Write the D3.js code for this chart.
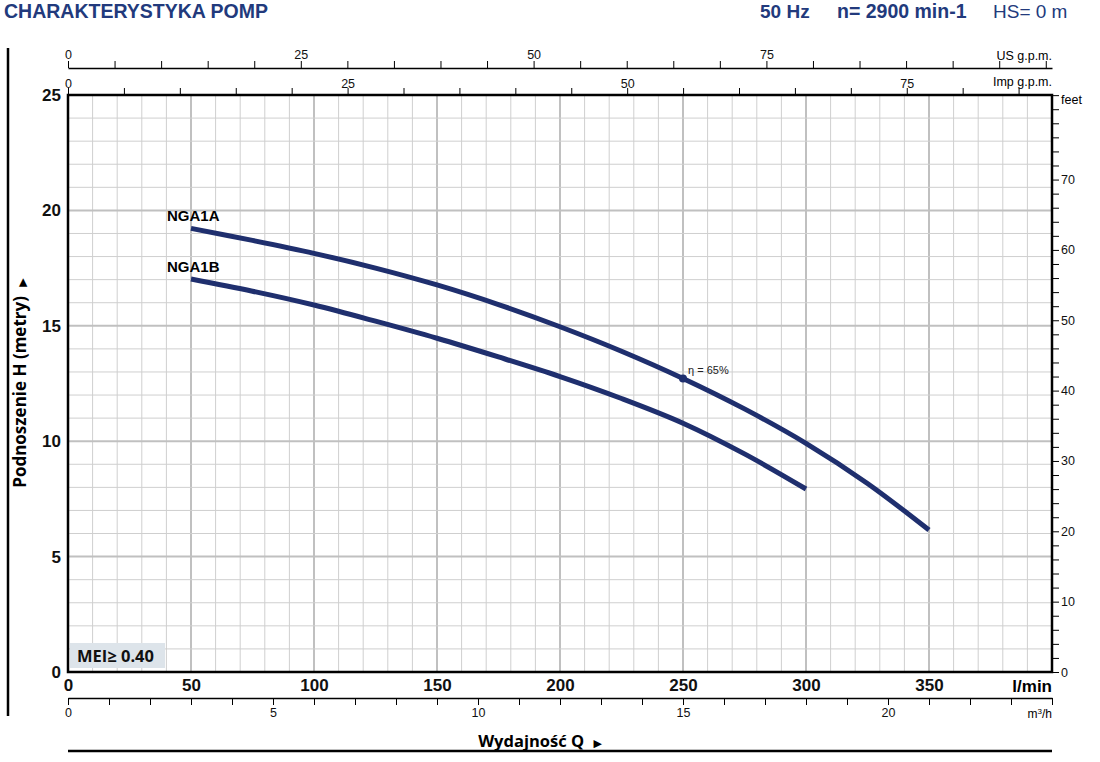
<!DOCTYPE html>
<html><head><meta charset="utf-8">
<script src="https://cdn.jsdelivr.net/npm/d3@7"></script>
<style>
body{margin:0;background:#fff;}
svg{display:block;}
.narrow{font-family:"Liberation Sans Narrow","Arial Narrow","Liberation Sans",sans-serif;}
</style></head>
<body><svg id="c" width="1100" height="762"></svg>
<script>
// ---- data ----
const qA = [50, 75, 100, 125, 150, 175, 200, 225, 250, 275, 300, 325, 350];
const hA = [19.22, 18.7, 18.14, 17.5, 16.77, 15.92, 14.96, 13.9, 12.72, 11.4, 9.91, 8.17, 6.15];
const qB = [50, 75, 100, 125, 150, 175, 200, 225, 250, 275, 300];
const hB = [17.03, 16.5, 15.9, 15.2, 14.46, 13.65, 12.8, 11.85, 10.78, 9.45, 7.93];
const seriesNames = ["NGA1A", "NGA1B"];
const etaPoint = {q: 250, h: 12.72, label: "η = 65%"};
const qTicks = [0, 50, 100, 150, 200, 250, 300, 350];
const hTicks = [0, 5, 10, 15, 20, 25];
const usTicks = [0, 25, 50, 75];
const impTicks = [0, 25, 50, 75];
const m3Ticks = [0, 5, 10, 15, 20];
const ftTicks = [0, 10, 20, 30, 40, 50, 60, 70];

const svg = d3.select("#c");
const navy = "#1f2f6e";
const hdr = "#223a7c";
const L = 68, R = 1052, T = 95, B = 672;
const x = d3.scaleLinear([0, 400], [L, R]);
const y = d3.scaleLinear([0, 25], [B, T]);
const xUS = d3.scaleLinear([0, 400 / 3.78541], [L, R]);
const xImp = d3.scaleLinear([0, 400 / 4.54609], [L, R]);
const xM3 = d3.scaleLinear([0, 24], [L, R]);
const yFt = d3.scaleLinear([0, 25 / 0.3048], [B, T]);

// header
const hf = "'Liberation Sans',Arial,sans-serif";
svg.append("text").attr("x", 4).attr("y", 17.5).attr("fill", hdr)
  .attr("font-family", hf).attr("font-weight", 700).attr("font-size", 19.5)
  .text("CHARAKTERYSTYKA POMP");
svg.append("text").attr("x", 760).attr("y", 17.5).attr("fill", hdr)
  .attr("font-family", hf).attr("font-weight", 700).attr("font-size", 19)
  .text("50 Hz");
svg.append("text").attr("x", 837).attr("y", 17.5).attr("fill", hdr)
  .attr("font-family", hf).attr("font-weight", 700).attr("font-size", 19.5)
  .text("n= 2900 min-1");
svg.append("text").attr("x", 993).attr("y", 17.5).attr("fill", hdr)
  .attr("font-family", hf).attr("font-weight", 400).attr("font-size", 19)
  .text("HS= 0 m");

// grid
const g = svg.append("g");
d3.range(0, 401, 10).forEach(v => {
  const maj = v % 50 === 0;
  g.append("line").attr("x1", x(v)).attr("x2", x(v)).attr("y1", T).attr("y2", B)
    .attr("stroke", maj ? "#c0c0c0" : "#cfcfcf").attr("stroke-width", maj ? 2 : 1);
});
d3.range(0, 26, 1).forEach(v => {
  const maj = v % 5 === 0;
  g.append("line").attr("x1", L).attr("x2", R).attr("y1", y(v)).attr("y2", y(v))
    .attr("stroke", maj ? "#c0c0c0" : "#cfcfcf").attr("stroke-width", maj ? 2 : 1);
});

// MEI box
svg.append("rect").attr("x", L + 2).attr("y", 643).attr("width", 95).attr("height", 25).attr("fill", "#dde4ea");
svg.append("text").attr("x", 77).attr("y", 662).attr("font-family", "'Open Sans',sans-serif")
  .attr("font-weight", 700).attr("font-size", 16.5).attr("fill", "#111").text("MEI≥ 0.40");

// frame
svg.append("rect").attr("x", L).attr("y", T).attr("width", R - L).attr("height", B - T)
  .attr("fill", "none").attr("stroke", "#000").attr("stroke-width", 2.5);

// curves
const line = d3.line().x(d => x(d[0])).y(d => y(d[1])).curve(d3.curveCatmullRom.alpha(0.5));
const dataA = qA.map((q, i) => [q, hA[i]]);
const dataB = qB.map((q, i) => [q, hB[i]]);
[dataA, dataB].forEach(d => {
  svg.append("path").attr("d", line(d)).attr("fill", "none").attr("stroke", navy).attr("stroke-width", 5);
});
svg.append("text").attr("x", x(qA[0]) - 24).attr("y", y(hA[0]) - 7).attr("class", "narrow")
  .attr("font-weight", 700).attr("font-size", 15).text(seriesNames[0]);
svg.append("text").attr("x", x(qB[0]) - 24).attr("y", y(hB[0]) - 7).attr("class", "narrow")
  .attr("font-weight", 700).attr("font-size", 15).text(seriesNames[1]);
svg.append("circle").attr("cx", x(etaPoint.q)).attr("cy", y(etaPoint.h)).attr("r", 4).attr("fill", navy);
svg.append("text").attr("x", x(etaPoint.q) + 5).attr("y", y(etaPoint.h) - 4).attr("class", "narrow")
  .attr("font-size", 11).attr("fill", "#222").text(etaPoint.label);

// axes helper
function styleAxis(sel, fs, bold) {
  sel.selectAll("text").attr("class", "narrow").attr("font-family", null)
    .attr("font-size", fs).attr("font-weight", bold ? 700 : 400).attr("fill", "#111");
  sel.selectAll("path,line").attr("stroke", "#000");
}
// US gpm
const aUS = svg.append("g").attr("transform", `translate(0,68)`)
  .call(d3.axisTop(xUS).tickValues(d3.range(0, 106, 5)).tickSizeInner(7).tickSizeOuter(0)
    .tickFormat(d => usTicks.includes(d) ? d : ""));
styleAxis(aUS, 12.5, false);
aUS.select(".domain").attr("stroke-width", 1.5);
aUS.selectAll("text").attr("dy", "0.1em");
svg.append("text").attr("x", R).attr("y", 60).attr("text-anchor", "end").attr("class", "narrow")
  .attr("font-size", 12.5).text("US g.p.m.");
// Imp gpm
const aImp = svg.append("g").attr("transform", `translate(0,${T})`)
  .call(d3.axisTop(xImp).tickValues(d3.range(0, 88, 5)).tickSizeInner(7).tickSizeOuter(0)
    .tickFormat(d => impTicks.includes(d) ? d : ""));
styleAxis(aImp, 12.5, false);
aImp.select(".domain").remove();
aImp.selectAll("text").attr("dy", "0.25em");
svg.append("text").attr("x", R).attr("y", 86).attr("text-anchor", "end").attr("class", "narrow")
  .attr("font-size", 12.5).text("Imp g.p.m.");
// feet
const aFt = svg.append("g").attr("transform", `translate(${R},0)`)
  .call(d3.axisRight(yFt).tickValues(d3.range(0, 83, 2)).tickSizeInner(7).tickSizeOuter(0)
    .tickFormat(d => ftTicks.includes(d) ? d : ""));
styleAxis(aFt, 12.5, false);
aFt.select(".domain").remove();
aFt.selectAll("text").attr("x", 9);
svg.append("text").attr("x", 1061).attr("y", 104).attr("class", "narrow").attr("font-size", 12.5).text("feet");
// l/min labels
const aQ = svg.append("g").attr("transform", `translate(0,${B})`)
  .call(d3.axisBottom(x).tickValues(qTicks).tickSize(0).tickPadding(7));
styleAxis(aQ, 17, true);
aQ.select(".domain").remove();
svg.append("text").attr("x", R).attr("y", 692).attr("text-anchor", "end").attr("class", "narrow")
  .attr("font-size", 17).attr("font-weight", 700).text("l/min");
// H labels
const aH = svg.append("g").attr("transform", `translate(${L},0)`)
  .call(d3.axisLeft(y).tickValues(hTicks).tickSize(0).tickPadding(7));
styleAxis(aH, 17, true);
aH.select(".domain").remove();
// m3/h
const aM = svg.append("g").attr("transform", `translate(0,698)`)
  .call(d3.axisBottom(xM3).tickValues(d3.range(0, 25, 1)).tickSizeInner(7).tickSizeOuter(0)
    .tickFormat(d => m3Ticks.includes(d) ? d : ""));
styleAxis(aM, 12.5, false);
aM.select(".domain").attr("stroke-width", 1.5);
svg.append("text").attr("x", R).attr("y", 718).attr("text-anchor", "end").attr("class", "narrow")
  .attr("font-size", 12).html("m<tspan font-size='8' dy='-4'>3</tspan><tspan dy='4'>/h</tspan>");

// axis titles
svg.append("text").attr("x", 540).attr("y", 747).attr("text-anchor", "middle")
  .attr("font-family", "'Open Sans',sans-serif").attr("font-weight", 700).attr("font-size", 16.5)
  .html("Wydajność Q <tspan font-size='11' dx='5' font-family='DejaVu Sans'>▶</tspan>");
svg.append("text").attr("transform", "translate(26,383) rotate(-90)").attr("text-anchor", "middle")
  .attr("font-family", "'Open Sans',sans-serif").attr("font-weight", 700).attr("font-size", 17)
  .html("Podnoszenie H (metry) <tspan font-size='11' dx='5' font-family='DejaVu Sans'>▶</tspan>");

// decorative rules
svg.append("line").attr("x1", 8).attr("x2", 8).attr("y1", 48).attr("y2", 716).attr("stroke", "#000").attr("stroke-width", 2.5);
svg.append("line").attr("x1", L).attr("x2", R).attr("y1", 751).attr("y2", 751).attr("stroke", "#000").attr("stroke-width", 2.5);
</script></body></html>
